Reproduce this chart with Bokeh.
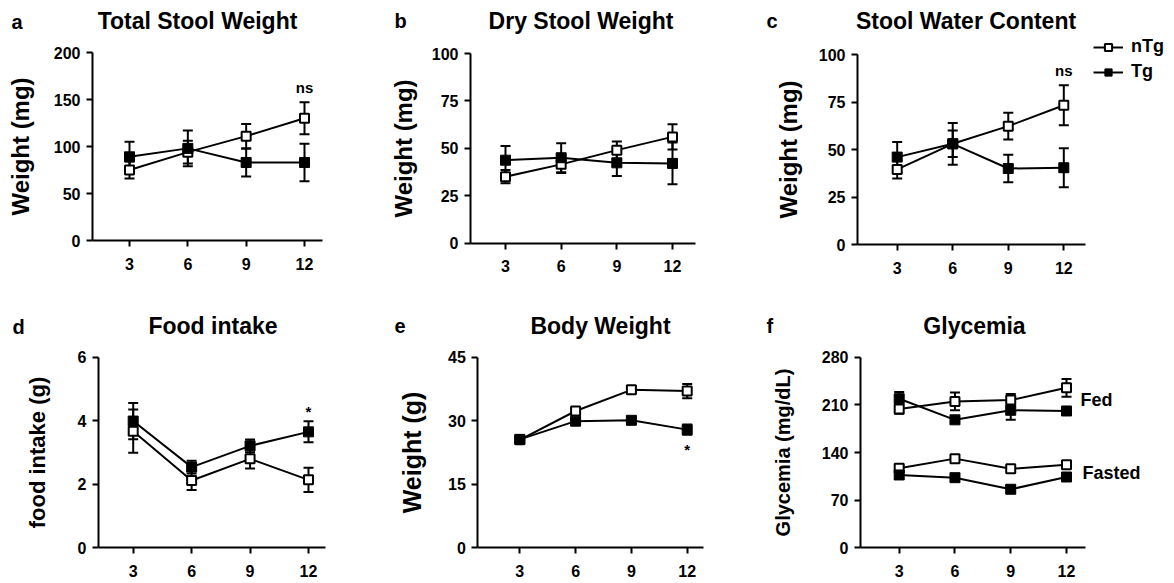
from bokeh.plotting import figure
from bokeh.layouts import column, row
from bokeh.models import (Range1d, FixedTicker, ColumnDataSource, Whisker, TeeHead,
                          Label, Legend, LegendItem)
from bokeh.embed import file_html
from bokeh.resources import INLINE

FONT = "Liberation Sans"

# ---------------- data ----------------
weeks = [3, 6, 9, 12]

# a  Total Stool Weight (mg)
total_ntg = [75, 94, 111, 130]
total_ntg_sem = [9, 12, 13, 17]
total_tg = [89, 98, 83, 83]
total_tg_sem = [16, 19, 15, 20]

# b  Dry Stool Weight (mg)
dry_ntg = [35, 41.5, 49, 56]
dry_ntg_sem = [3.5, 4.5, 4.5, 6.7]
dry_tg = [43.7, 45, 42.3, 42]
dry_tg_sem = [7.5, 7.6, 7, 11]

# c  Stool Water Content (mg)
water_ntg = [39.5, 53, 62.3, 73.3]
water_ntg_sem = [4.7, 7, 7, 10.5]
water_tg = [46, 53, 40, 40.4]
water_tg_sem = [8, 11, 7.2, 10.3]

# d  Food intake (g)
food_ntg = [3.67, 2.12, 2.8, 2.14]
food_ntg_sem = [0.68, 0.3, 0.3, 0.38]
food_tg = [3.99, 2.54, 3.21, 3.65]
food_tg_sem = [0.57, 0.2, 0.2, 0.33]

# e  Body Weight (g)
body_ntg = [25.5, 32.3, 37.3, 37.0]
body_ntg_sem = [0.5, 0.5, 0.8, 1.7]
body_tg = [25.6, 29.9, 30.1, 27.9]
body_tg_sem = [0.7, 0.6, 0.8, 1.2]

# f  Glycemia (mg/dL)
fed_ntg = [204, 215, 217, 235]
fed_ntg_sem = [7, 13, 9, 13]
fed_tg = [219, 188, 202, 201]
fed_tg_sem = [10, 4, 14, 5]
fasted_ntg = [117, 131, 116, 122]
fasted_ntg_sem = [5, 4, 4, 5]
fasted_tg = [107, 103, 86, 104]
fasted_tg_sem = [6, 4, 4, 6]

titles = ["Total Stool Weight", "Dry Stool Weight", "Stool Water Content",
          "Food intake", "Body Weight", "Glycemia"]
letters = ["a", "b", "c", "d", "e", "f"]
ylabels = ["Weight (mg)", "Weight (mg)", "Weight (mg)",
           "food intake (g)", "Weight (g)", "Glycemia (mg/dL)"]
yticks_all = [[0, 50, 100, 150, 200], [0, 25, 50, 75, 100], [0, 25, 50, 75, 100],
              [0, 2, 4, 6], [0, 15, 30, 45], [0, 70, 140, 210, 280]]
series_names = ["nTg", "Tg"]

# ---------------- layout geometry (page pixels) ----------------
# ox/oy/w/h: figure box; L/R: x-axis extent, T/B: y-axis extent; x3/x12: first/last tick
geom = [
    dict(ox=0, oy=0, w=390, h=290, L=92, R=322, T=52, B=240, x3=129, x12=304),
    dict(ox=390, oy=0, w=370, h=290, L=470, R=695, T=53, B=242.5, x3=505, x12=672),
    dict(ox=760, oy=0, w=414, h=290, L=857, R=1085, T=54, B=244, x3=896.7, x12=1063.3),
    dict(ox=0, oy=290, w=390, h=293, L=98, R=325, T=356.7, B=547.3, x3=132.7, x12=308),
    dict(ox=390, oy=290, w=370, h=293, L=477.3, R=703, T=356.7, B=547.3, x3=519.3, x12=686.7),
    dict(ox=760, oy=290, w=414, h=293, L=860, R=1085, T=356.7, B=547.3, x3=898.7, x12=1066),
]
letter_pos = [(11, 21.5), (394, 20.5), (766, 20.5), (12, 326), (394, 325), (766, 325)]
title_pos = [(197, 20), (580.5, 20), (965.5, 20), (212.5, 325), (600, 325), (974, 325)]
ylabel_size = [24, 24, 24, 22, 25, 20]
ylabel_standoff = [17, 12, 14, 25, 19, 25]


def mapping(i):
    g = geom[i]
    sx = (g["x12"] - g["x3"]) / (weeks[-1] - weeks[0])
    xlo = weeks[0] - (g["x3"] - g["L"]) / sx
    xhi = weeks[-1] + (g["R"] - g["x12"]) / sx
    ymax = yticks_all[i][-1]
    sy = (g["B"] - g["T"]) / ymax
    return sx, sy, xlo, xhi, ymax


def page_to_data(i, px, py):
    g = geom[i]
    sx, sy, xlo, xhi, ymax = mapping(i)
    return xlo + (px - g["L"]) / sx, (g["B"] - py) / sy


def make_panel(i):
    g = geom[i]
    sx, sy, xlo, xhi, ymax = mapping(i)
    x0, y1 = page_to_data(i, g["ox"], g["oy"])
    x1, y0 = page_to_data(i, g["ox"] + g["w"], g["oy"] + g["h"])
    p = figure(width=g["w"], height=g["h"],
               x_range=Range1d(x0, x1), y_range=Range1d(y0, y1),
               output_backend="svg", toolbar_location=None,
               min_border_left=0, min_border_right=0,
               min_border_top=0, min_border_bottom=0)
    p.outline_line_color = None
    p.grid.visible = False
    for ax in (p.xaxis[0], p.yaxis[0]):
        ax.axis_line_width = 2
        ax.axis_line_color = "black"
        ax.major_tick_line_width = 2
        ax.major_tick_line_color = "black"
        ax.major_tick_in = 0
        ax.major_tick_out = 6
        ax.minor_tick_line_color = None
        ax.major_label_text_font = FONT
        ax.major_label_text_font_style = "bold"
        ax.major_label_text_font_size = "16px"
        ax.major_label_text_color = "black"
    p.xaxis.ticker = FixedTicker(ticks=weeks)
    p.yaxis.ticker = FixedTicker(ticks=yticks_all[i])
    p.xaxis.fixed_location = 0
    p.xaxis.bounds = (xlo, xhi)
    p.yaxis.fixed_location = xlo
    p.yaxis.bounds = (0, ymax)
    p.xaxis.major_label_standoff = 11
    p.yaxis.major_label_standoff = 6
    p.yaxis.axis_label = ylabels[i]
    p.yaxis.axis_label_text_font = FONT
    p.yaxis.axis_label_text_font_style = "bold"
    p.yaxis.axis_label_text_font_size = f"{ylabel_size[i]}px"
    p.yaxis.axis_label_text_color = "black"
    p.yaxis.axis_label_standoff = ylabel_standoff[i]

    lx, ly = page_to_data(i, *letter_pos[i])
    p.add_layout(Label(x=lx, y=ly, text=letters[i], text_font=FONT, text_font_style="bold",
                       text_font_size="20px", text_align="left", text_baseline="middle",
                       text_color="black"))
    tx, ty = page_to_data(i, *title_pos[i])
    p.add_layout(Label(x=tx, y=ty, text=titles[i], text_font=FONT, text_font_style="bold",
                       text_font_size="23px", text_align="center", text_baseline="middle",
                       text_color="black"))
    return p


def add_series(p, means, sems, filled):
    src = ColumnDataSource(dict(
        x=weeks, y=means,
        upper=[m + s for m, s in zip(means, sems)],
        lower=[m - s for m, s in zip(means, sems)]))
    w = Whisker(source=src, base="x", upper="upper", lower="lower", dimension="height",
                line_color="black", line_width=2, level="underlay",
                upper_head=TeeHead(size=10, line_width=2, line_color="black"),
                lower_head=TeeHead(size=10, line_width=2, line_color="black"))
    p.add_layout(w)
    ln = p.line("x", "y", source=src, line_color="black", line_width=2)
    if filled:
        sc = p.scatter("x", "y", source=src, marker="square", size=10,
                       fill_color="black", line_color="black", line_width=1)
    else:
        sc = p.scatter("x", "y", source=src, marker="square", size=9,
                       fill_color="white", line_color="black", line_width=2)
    return ln, sc


def note(p, text, x, y, yoff, size=15, baseline="alphabetic", xoff=0, align="center"):
    p.add_layout(Label(x=x, y=y, text=text, x_offset=xoff, y_offset=yoff, text_font=FONT,
                       text_font_style="bold", text_font_size=f"{size}px",
                       text_align=align, text_baseline=baseline, text_color="black"))


panels = [make_panel(i) for i in range(6)]
pa, pb, pc, pd, pe, pf = panels

add_series(pa, total_ntg, total_ntg_sem, False)
add_series(pa, total_tg, total_tg_sem, True)
note(pa, "ns", weeks[3], total_ntg[3] + total_ntg_sem[3], 15)

add_series(pb, dry_ntg, dry_ntg_sem, False)
add_series(pb, dry_tg, dry_tg_sem, True)

r_ntg = add_series(pc, water_ntg, water_ntg_sem, False)
r_tg = add_series(pc, water_tg, water_tg_sem, True)
note(pc, "ns", weeks[3], water_ntg[3] + water_ntg_sem[3], 15)

gc = geom[2]
legend = Legend(items=[LegendItem(label=series_names[0], renderers=list(r_ntg)),
                       LegendItem(label=series_names[1], renderers=list(r_tg))],
                location=(1093 - gc["ox"], gc["oy"] + gc["h"] - 82), orientation="vertical",
                glyph_width=30, glyph_height=18, label_height=18, spacing=4,
                label_standoff=8, padding=0, margin=0,
                label_text_font=FONT, label_text_font_style="bold",
                label_text_font_size="18px", label_text_color="black",
                border_line_color=None, background_fill_alpha=0)
pc.add_layout(legend)

add_series(pd, food_ntg, food_ntg_sem, False)
add_series(pd, food_tg, food_tg_sem, True)
note(pd, "*", weeks[3], food_tg[3] + food_tg_sem[3], 10)

add_series(pe, body_ntg, body_ntg_sem, False)
add_series(pe, body_tg, body_tg_sem, True)
note(pe, "*", weeks[3], body_tg[3] - body_tg_sem[3], -15)

add_series(pf, fed_ntg, fed_ntg_sem, False)
add_series(pf, fed_tg, fed_tg_sem, True)
add_series(pf, fasted_ntg, fasted_ntg_sem, False)
add_series(pf, fasted_tg, fasted_tg_sem, True)
note(pf, "Fed", weeks[3], (fed_ntg[3] + fed_tg[3]) / 2, -1, size=18,
     baseline="middle", xoff=14, align="left")
note(pf, "Fasted", weeks[3], (fasted_ntg[3] + fasted_tg[3]) / 2, -2, size=18,
     baseline="middle", xoff=16, align="left")

layout = column(row(pa, pb, pc), row(pd, pe, pf))
open("out.html", "w").write(file_html(layout, INLINE))
